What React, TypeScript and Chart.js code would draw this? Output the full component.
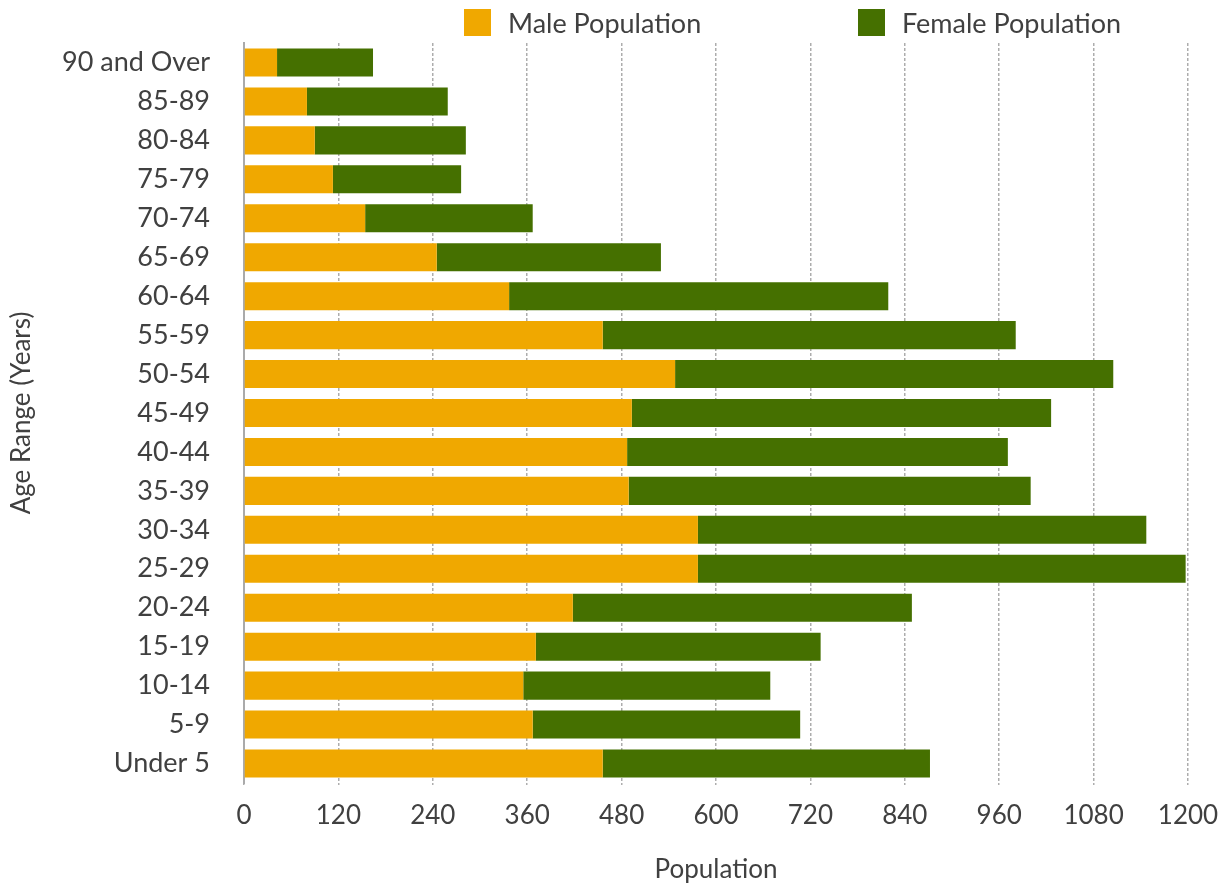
import React, { useEffect, useRef } from "react";
import { Chart, registerables } from "chart.js";

Chart.register(...registerables);

const ageRanges = [
  "90 and Over", "85-89", "80-84", "75-79", "70-74", "65-69", "60-64",
  "55-59", "50-54", "45-49", "40-44", "35-39", "30-34", "25-29",
  "20-24", "15-19", "10-14", "5-9", "Under 5",
];
const malePopulation = [42, 80, 90, 113, 154, 245, 337, 456, 548, 493, 487, 489, 577, 577, 418, 371, 355, 367, 456];
const femalePopulation = [122, 179, 192, 163, 213, 285, 482, 525, 557, 533, 484, 511, 570, 620, 431, 362, 314, 340, 416];
const xTicks = [0, 120, 240, 360, 480, 600, 720, 840, 960, 1080, 1200];

const MALE_COLOR = "#F0A800";
const FEMALE_COLOR = "#457000";
const TEXT_COLOR = "#404040";
const FONT = "Lato, 'Open Sans', sans-serif";

export default function App() {
  const canvasRef = useRef<HTMLCanvasElement | null>(null);

  useEffect(() => {
    const canvas = canvasRef.current;
    if (!canvas) return;
    const chart = new Chart(canvas, {
      type: "bar",
      data: {
        labels: ageRanges,
        datasets: [
          {
            label: "Male Population",
            data: malePopulation,
            backgroundColor: MALE_COLOR,
            borderWidth: 0,
            barPercentage: 0.72,
            categoryPercentage: 1,
          },
          {
            label: "Female Population",
            data: femalePopulation,
            backgroundColor: FEMALE_COLOR,
            borderWidth: 0,
            barPercentage: 0.72,
            categoryPercentage: 1,
          },
        ],
      },
      options: {
        indexAxis: "y",
        responsive: false,
        animation: false,
        devicePixelRatio: 1,
        layout: { padding: { top: 43, right: 38, bottom: 0, left: 0 } },
        plugins: {
          legend: { display: false },
          tooltip: { enabled: false },
        },
        scales: {
          x: {
            stacked: true,
            min: 0,
            max: 1200,
            afterBuildTicks: (scale: any) => {
              scale.ticks = xTicks.map((v) => ({ value: v }));
            },
            afterFit: (scale: any) => {
              scale.height = 103;
              scale.paddingLeft = 0;
              scale.paddingRight = 0;
            },
            ticks: {
              color: TEXT_COLOR,
              font: { family: FONT, size: 26 },
              padding: 15,
              maxRotation: 0,
              callback: (v: any) => String(v),
            },
            grid: {
              color: "rgba(0,0,0,0.32)",
              lineWidth: 1.5,
              drawTicks: true,
              tickLength: 2,
            },
            border: { display: false, dash: [3, 2] },
            title: {
              display: true,
              text: "Population",
              color: TEXT_COLOR,
              font: { family: FONT, size: 26 },
              padding: { top: 0, bottom: 1 },
            },
          },
          y: {
            stacked: true,
            afterFit: (scale: any) => {
              scale.width = 244;
              scale.paddingTop = 0;
              scale.paddingBottom = 0;
            },
            ticks: {
              color: TEXT_COLOR,
              font: { family: FONT, size: 27 },
              padding: 34,
            },
            grid: { display: false, drawTicks: false },
            border: { display: true, color: "#aaaaaa", width: 2 },
            title: {
              display: true,
              text: "Age Range (Years)",
              color: TEXT_COLOR,
              font: { family: FONT, size: 26 },
              padding: { top: 6, bottom: 0 },
            },
          },
        },
      },
    });
    return () => chart.destroy();
  }, []);

  const legendText: React.CSSProperties = {
    position: "absolute",
    top: 6,
    fontFamily: FONT,
    fontSize: 27,
    lineHeight: "33px",
    color: TEXT_COLOR,
    whiteSpace: "nowrap",
  };
  const box: React.CSSProperties = { position: "absolute", top: 9, width: 27, height: 27 };

  return (
    <div style={{ position: "absolute", left: 0, top: 0, width: 1226, height: 886, background: "#fff" }}>
      <canvas ref={canvasRef} width={1226} height={886} style={{ width: 1226, height: 886, display: "block" }} />
      <div style={{ ...box, left: 464, background: MALE_COLOR }} />
      <div style={{ ...legendText, left: 508 }}>Male Population</div>
      <div style={{ ...box, left: 858, background: FEMALE_COLOR }} />
      <div style={{ ...legendText, left: 902 }}>Female Population</div>
    </div>
  );
}
